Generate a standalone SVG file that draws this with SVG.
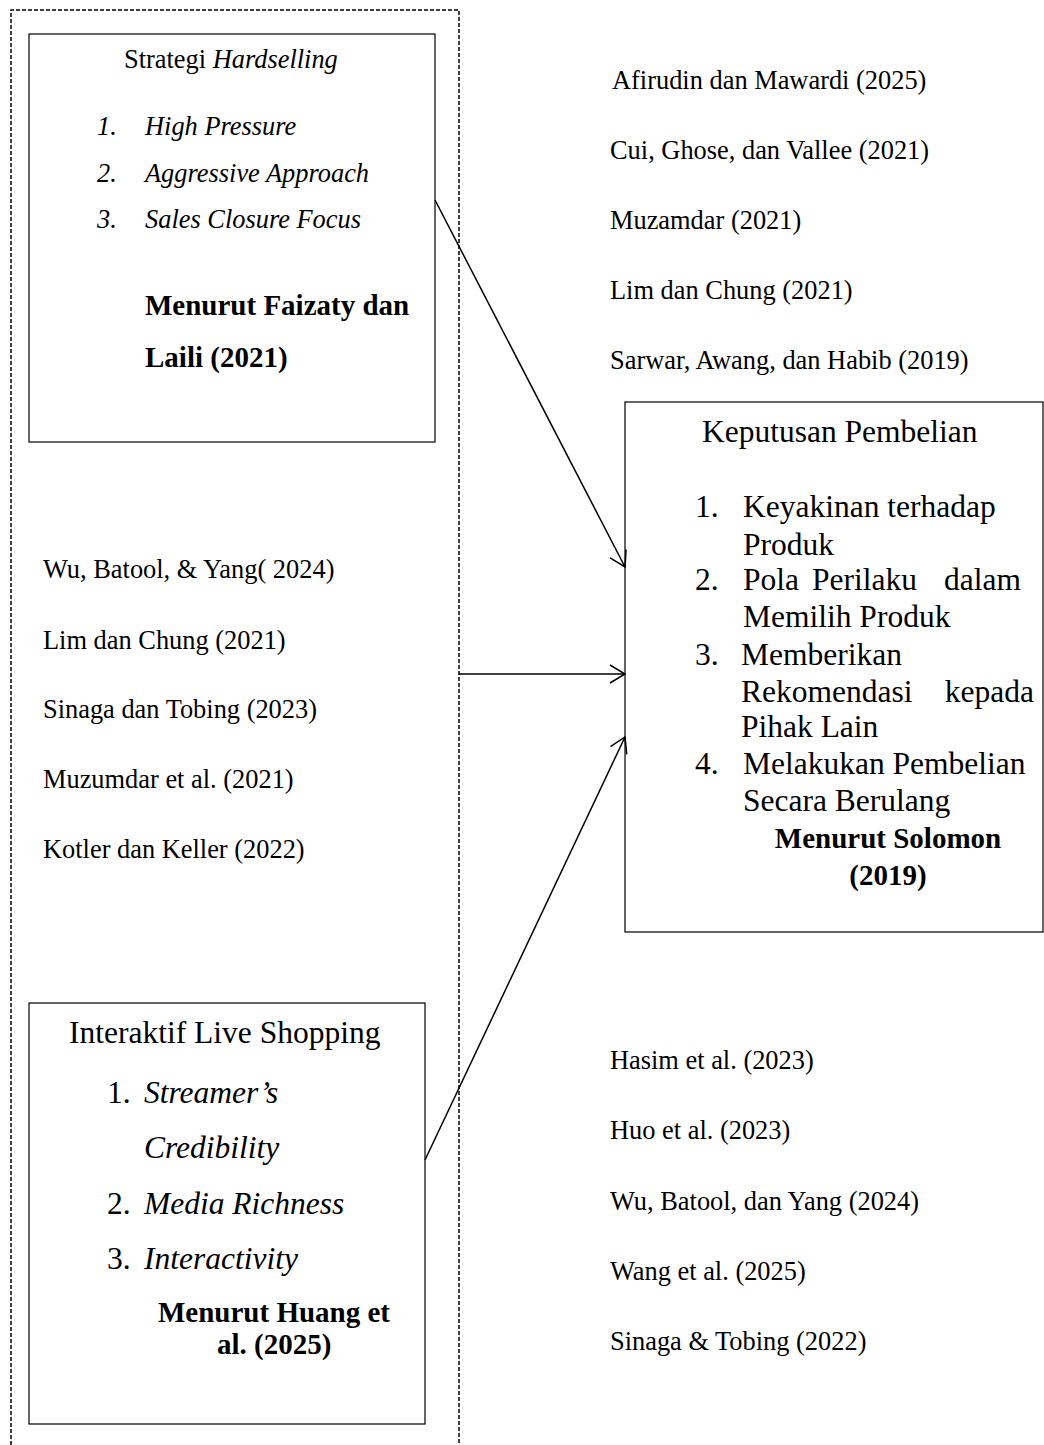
<svg xmlns="http://www.w3.org/2000/svg" width="1044" height="1445" viewBox="0 0 1044 1445">
<style>
text{font-family:"Liberation Serif","Times New Roman",serif;fill:#000}
.c{font-size:26.4px}
.s{font-size:26.4px}
.m{font-size:31.5px}
.b{font-weight:bold;font-size:29px}
.i{font-style:italic}
.box{fill:#fff;stroke:#000;stroke-width:1.2}
.ln{fill:none;stroke:#000;stroke-width:1.5}
</style>
<defs>
<marker id="ah" markerWidth="20" markerHeight="20" refX="17" refY="10" orient="auto" markerUnits="userSpaceOnUse">
<path d="M2,1 L17,10 L2,19" fill="none" stroke="#000" stroke-width="1.5"/>
</marker>
</defs>
<path id="frame" d="M11,1445 V10 H459 V1445" fill="none" stroke="#000" stroke-width="1.5" stroke-dasharray="4,2"/>
<g id="hardselling">
<rect class="box" x="29" y="34" width="406" height="408"/>
<text class="s" x="124" y="68">Strategi <tspan class="i">Hardselling</tspan></text>
<text class="s i" x="97" y="135">1.</text><text class="s i" x="145" y="135">High Pressure</text>
<text class="s i" x="97" y="182">2.</text><text class="s i" x="145" y="182">Aggressive Approach</text>
<text class="s i" x="97" y="228">3.</text><text class="s i" x="145" y="228">Sales Closure Focus</text>
<text class="b" x="145" y="315">Menurut Faizaty dan</text>
<text class="b" x="145" y="367">Laili (2021)</text>
</g>
<g id="live">
<rect class="box" x="29" y="1003" width="396" height="421"/>
<text class="m" x="69" y="1043">Interaktif Live Shopping</text>
<text class="m" x="107" y="1103">1.</text><text class="m i" x="144" y="1103">Streamer’s</text>
<text class="m i" x="144" y="1158">Credibility</text>
<text class="m" x="107" y="1214">2.</text><text class="m i" x="144" y="1214">Media Richness</text>
<text class="m" x="107" y="1269">3.</text><text class="m i" x="144" y="1269">Interactivity</text>
<text class="b" x="158" y="1322">Menurut Huang et</text>
<text class="b" x="217" y="1354">al. (2025)</text>
</g>
<g id="keputusan">
<rect class="box" x="625" y="402" width="418" height="530"/>
<text class="m" x="702" y="442">Keputusan Pembelian</text>
<text class="m" x="695" y="517">1.</text><text class="m" x="743" y="517">Keyakinan terhadap</text>
<text class="m" x="743" y="555">Produk</text>
<text class="m" x="695" y="590">2.</text><text class="m" x="743" y="590">Pola</text><text class="m" x="812" y="590">Perilaku</text><text class="m" x="1021" y="590" text-anchor="end">dalam</text>
<text class="m" x="743" y="627">Memilih Produk</text>
<text class="m" x="695" y="665">3.</text><text class="m" x="741" y="665">Memberikan</text>
<text class="m" x="741" y="702">Rekomendasi</text><text class="m" x="1034" y="702" text-anchor="end">kepada</text>
<text class="m" x="741" y="737">Pihak Lain</text>
<text class="m" x="695" y="774">4.</text><text class="m" x="743" y="774">Melakukan Pembelian</text>
<text class="m" x="743" y="811">Secara Berulang</text>
<text class="b" x="888" y="848" text-anchor="middle">Menurut Solomon</text>
<text class="b" x="888" y="885" text-anchor="middle">(2019)</text>
</g>
<g id="refs-top">
<text class="c" x="612" y="89">Afirudin dan Mawardi (2025)</text>
<text class="c" x="610" y="159">Cui, Ghose, dan Vallee (2021)</text>
<text class="c" x="610" y="229">Muzamdar (2021)</text>
<text class="c" x="610" y="299">Lim dan Chung (2021)</text>
<text class="c" x="610" y="369">Sarwar, Awang, dan Habib (2019)</text>
</g>
<g id="refs-mid">
<text class="c" x="43" y="578">Wu, Batool, &amp; Yang( 2024)</text>
<text class="c" x="43" y="649">Lim dan Chung (2021)</text>
<text class="c" x="43" y="718">Sinaga dan Tobing (2023)</text>
<text class="c" x="43" y="788">Muzumdar et al. (2021)</text>
<text class="c" x="43" y="858">Kotler dan Keller (2022)</text>
</g>
<g id="refs-bottom">
<text class="c" x="610" y="1069">Hasim et al. (2023)</text>
<text class="c" x="610" y="1139">Huo et al. (2023)</text>
<text class="c" x="610" y="1210">Wu, Batool, dan Yang (2024)</text>
<text class="c" x="610" y="1280">Wang et al. (2025)</text>
<text class="c" x="610" y="1350">Sinaga &amp; Tobing (2022)</text>
</g>
<g id="connectors">
<line class="ln" x1="435" y1="200" x2="625" y2="567" marker-end="url(#ah)"/>
<line class="ln" x1="459" y1="674" x2="625" y2="674" marker-end="url(#ah)"/>
<line class="ln" x1="425" y1="1160" x2="625" y2="737" marker-end="url(#ah)"/>
</g>
</svg>
